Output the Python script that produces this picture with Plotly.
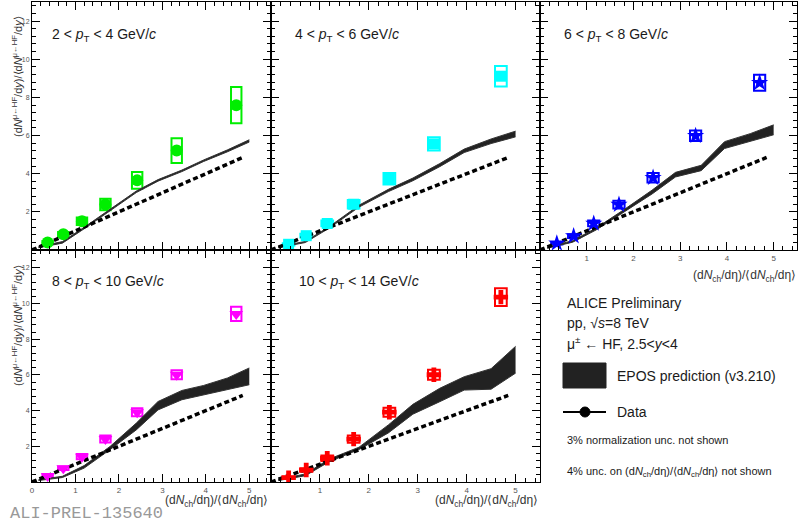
import plotly.graph_objects as go

W, H = 808, 524

# ---------------- data ----------------
x_data = [0.36, 0.72, 1.15, 1.69, 2.42, 3.33, 4.70]

y_pt24 = [0.39, 0.82, 1.51, 2.38, 3.65, 5.21, 7.59]
s_pt24 = [0.08, 0.12, 0.20, 0.30, 0.44, 0.65, 0.95]

y_pt46 = [0.30, 0.75, 1.39, 2.40, 3.73, 5.56, 9.11]
s_pt46 = [0.06, 0.10, 0.15, 0.22, 0.30, 0.35, 0.54]

y_pt68 = [0.35, 0.73, 1.39, 2.38, 3.79, 5.99, 8.77]
s_pt68 = [0.06, 0.10, 0.15, 0.20, 0.25, 0.28, 0.42]

y_pt810 = [0.34, 0.77, 1.42, 2.41, 3.91, 6.01, 9.42]
s_pt810 = [0.06, 0.10, 0.15, 0.20, 0.22, 0.25, 0.40]

y_pt1014 = [0.24, 0.67, 1.33, 2.40, 3.91, 6.01, 10.36]
s_pt1014 = [0.06, 0.10, 0.15, 0.20, 0.25, 0.28, 0.50]

x_epos = [0.15, 0.70, 1.20, 1.80, 2.40, 2.90, 3.45, 3.95, 4.50, 5.00]
epos_lo_24 = [0.12, 0.36, 1.11, 2.06, 3.01, 3.61, 4.11, 4.64, 5.15, 5.66]
epos_hi_24 = [0.18, 0.44, 1.19, 2.14, 3.09, 3.69, 4.19, 4.72, 5.25, 5.78]
epos_lo_46 = [0.12, 0.39, 1.16, 2.25, 3.06, 3.63, 4.37, 5.11, 5.58, 5.93]
epos_hi_46 = [0.18, 0.45, 1.24, 2.35, 3.18, 3.77, 4.53, 5.29, 5.82, 6.23]
epos_lo_68 = [0.09, 0.41, 1.05, 1.98, 2.94, 3.83, 4.16, 5.32, 5.70, 6.04]
epos_hi_68 = [0.15, 0.49, 1.15, 2.12, 3.14, 4.07, 4.44, 5.68, 6.10, 6.56]
epos_lo_810 = [0.08, 0.25, 0.78, 1.82, 2.92, 4.04, 4.61, 4.89, 5.17, 5.45]
epos_hi_810 = [0.13, 0.32, 0.92, 2.00, 3.30, 4.51, 5.13, 5.41, 5.83, 6.39]
epos_lo_1014 = [0.08, 0.35, 1.15, 1.82, 2.75, 3.80, 4.50, 5.15, 5.20, 6.10]
epos_hi_1014 = [0.14, 0.45, 1.30, 1.95, 3.20, 4.35, 5.25, 5.90, 6.35, 7.60]

diag_x = [0.0, 4.85]
diag_y = [0.0, 4.85]

x_ticks_first = [0, 1, 2, 3, 4, 5]
x_ticks_other = [1, 2, 3, 4, 5]
y_ticks = [2, 4, 6, 8, 10, 12]

panel_titles = [
    "2 &lt; <i>p</i><sub>T</sub> &lt; 4 GeV/<i>c</i>",
    "4 &lt; <i>p</i><sub>T</sub> &lt; 6 GeV/<i>c</i>",
    "6 &lt; <i>p</i><sub>T</sub> &lt; 8 GeV/<i>c</i>",
    "8 &lt; <i>p</i><sub>T</sub> &lt; 10 GeV/<i>c</i>",
    "10 &lt; <i>p</i><sub>T</sub> &lt; 14 GeV/<i>c</i>",
]

# ---------------- styling ----------------
FONT = "Liberation Sans, Arial, sans-serif"
colors = ["#00ee00", "#00ffff", "#0000ff", "#ff00ff", "#ff0000"]
symbols = ["circle", "square", "star", "triangle-down", "cross"]
msizes = [12, 11, 13, 12, 12]

# pixel layout
cols = [(32, 271), (271, 540), (540, 797)]
rows = [(2, 250), (250, 482)]
panel_pos = [(0, 0), (1, 0), (2, 0), (0, 1), (1, 1)]

def fx(p):
    return p / W

def fy(p):
    return 1 - p / H

panels = [
    (y_pt24, s_pt24, epos_lo_24, epos_hi_24),
    (y_pt46, s_pt46, epos_lo_46, epos_hi_46),
    (y_pt68, s_pt68, epos_lo_68, epos_hi_68),
    (y_pt810, s_pt810, epos_lo_810, epos_hi_810),
    (y_pt1014, s_pt1014, epos_lo_1014, epos_hi_1014),
]

fig = go.Figure()
layout = {}

for i, (yv, sv, lo, hi) in enumerate(panels):
    n = i + 1
    xa = "x" if n == 1 else f"x{n}"
    ya = "y" if n == 1 else f"y{n}"
    c, r = panel_pos[i]
    # EPOS band
    fig.add_trace(go.Scatter(x=x_epos, y=lo, xaxis=xa, yaxis=ya, mode="lines",
                             line=dict(color="#333333", width=1), showlegend=False,
                             hoverinfo="skip"))
    fig.add_trace(go.Scatter(x=x_epos, y=hi, xaxis=xa, yaxis=ya, mode="lines",
                             line=dict(color="#333333", width=1), fill="tonexty",
                             fillcolor="#222222", showlegend=False, hoverinfo="skip"))
    # diagonal
    fig.add_trace(go.Scatter(x=diag_x, y=diag_y, xaxis=xa, yaxis=ya, mode="lines",
                             line=dict(color="black", width=3.5, dash="5px,3px"),
                             showlegend=False, hoverinfo="skip"))
    # systematic boxes
    fig.add_trace(go.Bar(x=x_data, y=[2 * s for s in sv],
                         base=[y - s for y, s in zip(yv, sv)], width=0.24,
                         xaxis=xa, yaxis=ya,
                         marker=dict(color="rgba(0,0,0,0)", line=dict(color=colors[i], width=2)),
                         showlegend=False, hoverinfo="skip"))
    # data points
    fig.add_trace(go.Scatter(x=x_data, y=yv, xaxis=xa, yaxis=ya, mode="markers",
                             marker=dict(symbol=symbols[i], size=msizes[i], color=colors[i],
                                         line=dict(width=0)),
                             showlegend=False))

    x0, x1 = cols[c]
    y0, y1 = rows[r]
    show_x = (r == 1) or (c == 2)
    xt = x_ticks_first if c == 0 else x_ticks_other
    axcommon = dict(showline=True, linecolor="black", linewidth=1, mirror="allticks",
                    ticks="inside", ticklen=8, tickwidth=1, tickcolor="black",
                    showgrid=False, zeroline=False, fixedrange=True, automargin=False,
                    tickfont=dict(family=FONT, size=8, color="#555555"))
    layout["xaxis" if n == 1 else f"xaxis{n}"] = dict(
        axcommon, domain=[fx(x0), fx(x1)], anchor=ya, range=[0, 5.5],
        tickmode="array", tickvals=xt, ticktext=[str(t) for t in xt], showticklabels=show_x,
        minor=dict(ticks="inside", ticklen=4, tickcolor="black", tickmode="linear",
                   tick0=0, dtick=0.2, showgrid=False))
    layout["yaxis" if n == 1 else f"yaxis{n}"] = dict(
        axcommon, domain=[fy(y1), fy(y0)], anchor=xa, range=[0, 13],
        tickmode="array", tickvals=y_ticks, ticktext=[str(t) for t in y_ticks],
        showticklabels=(c == 0),
        tickfont=dict(family=FONT, size=7, color="#555555"),
        minor=dict(ticks="inside", ticklen=4, tickcolor="black", tickmode="linear",
                   tick0=0, dtick=0.4, showgrid=False))

annotations = []
title_pos = [(50, 35), (293, 35), (562, 35), (50, 282), (297, 282)]
for i, t in enumerate(panel_titles):
    px, py = title_pos[i]
    annotations.append(dict(text=t, x=fx(px), y=fy(py), xref="paper", yref="paper",
                            xanchor="left", yanchor="middle", showarrow=False,
                            font=dict(family=FONT, size=14, color="#1a1a1a")))

ytitle = ("(d<i>N</i><sup>μ←HF</sup>/d<i>y</i>)/⟨d<i>N</i><sup>μ←HF</sup>/d<i>y</i>⟩")
for cy in (77, 326):
    annotations.append(dict(text=ytitle, x=fx(17), y=fy(cy), xref="paper", yref="paper",
                            xanchor="center", yanchor="middle", textangle=-90,
                            showarrow=False, font=dict(family=FONT, size=11, color="#333333")))

xtitle = "(d<i>N</i><sub>ch</sub>/dη)/⟨d<i>N</i><sub>ch</sub>/dη⟩"
for rx, cy in ((270, 501), (540, 501), (798, 276)):
    annotations.append(dict(text=xtitle, x=fx(rx), y=fy(cy), xref="paper", yref="paper",
                            xanchor="right", yanchor="middle", showarrow=False,
                            font=dict(family=FONT, size=12, color="#333333")))

annotations.append(dict(text="ALI-PREL-135640", x=fx(8), y=fy(513), xref="paper", yref="paper",
                        xanchor="left", yanchor="middle", showarrow=False,
                        font=dict(family="Liberation Mono, monospace", size=17, color="#999999")))

legend_texts = [
    ("ALICE Preliminary", 565, 303, 14),
    ("pp, √<i>s</i>=8 TeV", 565, 323, 14),
    ("μ<sup>±</sup> ← HF, 2.5&lt;<i>y</i>&lt;4", 565, 343, 14),
    ("EPOS prediction (v3.210)", 615, 376, 14),
    ("Data", 615, 412, 14),
    ("3% normalization unc. not shown", 565, 440, 11),
    ("4% unc. on (d<i>N</i><sub>ch</sub>/dη)/⟨d<i>N</i><sub>ch</sub>/dη⟩ not shown", 565, 472, 11),
]
for t, px, py, sz in legend_texts:
    annotations.append(dict(text=t, x=fx(px), y=fy(py), xref="paper", yref="paper",
                            xanchor="left", yanchor="middle", showarrow=False,
                            font=dict(family=FONT, size=sz, color="#1a1a1a")))

shapes = [
    dict(type="rect", xref="paper", yref="paper", x0=fx(563), x1=fx(606), y0=fy(388), y1=fy(363),
         fillcolor="#222222", line=dict(color="#222222", width=1)),
    dict(type="line", xref="paper", yref="paper", x0=fx(563), x1=fx(606), y0=fy(412), y1=fy(412),
         line=dict(color="black", width=2)),
    dict(type="circle", xref="paper", yref="paper", x0=fx(580), x1=fx(590), y0=fy(417), y1=fy(407),
         fillcolor="black", line=dict(color="black", width=1)),
]

fig.update_layout(
    width=W, height=H, margin=dict(l=0, r=0, t=0, b=0, autoexpand=False),
    paper_bgcolor="white", plot_bgcolor="white",
    showlegend=False, barmode="overlay",
    annotations=annotations, shapes=shapes,
    **layout,
)

fig.write_html("out.html", config={"displayModeBar": False},
               post_script="document.body.style.margin='0';document.body.style.overflow='hidden';")
